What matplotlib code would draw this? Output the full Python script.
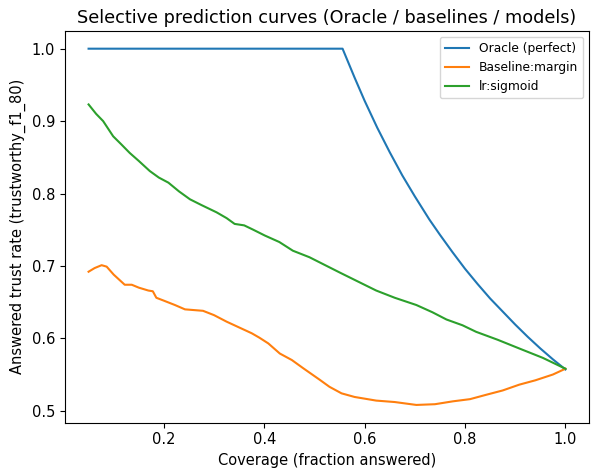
import matplotlib
matplotlib.use("Agg")
import matplotlib.pyplot as plt

# Values
oracle_cov = [0.05, 0.556, 0.58, 0.60, 0.625, 0.65, 0.675, 0.70, 0.729, 0.75, 0.775,
              0.80, 0.825, 0.85, 0.875, 0.90, 0.925, 0.95, 0.975, 1.0]
oracle_rate = [1.0, 1.0, 0.960, 0.928, 0.891, 0.857, 0.825, 0.796, 0.764, 0.743, 0.719,
               0.696, 0.675, 0.655, 0.637, 0.619, 0.602, 0.586, 0.571, 0.557]

margin_cov = [0.05, 0.062, 0.076, 0.086, 0.10, 0.122, 0.136, 0.15, 0.169, 0.178, 0.185,
              0.20, 0.222, 0.242, 0.26, 0.278, 0.30, 0.325, 0.35, 0.375, 0.39,
              0.408, 0.431, 0.455, 0.477, 0.51, 0.53, 0.554, 0.58, 0.623, 0.66,
              0.703, 0.74, 0.776, 0.81, 0.842, 0.875, 0.908, 0.94, 0.975, 1.0]
margin_rate = [0.692, 0.697, 0.701, 0.699, 0.688, 0.674, 0.674, 0.670, 0.666, 0.665, 0.656,
               0.652, 0.646, 0.640, 0.639, 0.638, 0.632, 0.623, 0.615, 0.607, 0.601,
               0.593, 0.579, 0.570, 0.559, 0.543, 0.533, 0.524, 0.519, 0.514, 0.512,
               0.508, 0.509, 0.513, 0.516, 0.522, 0.528, 0.536, 0.542, 0.550, 0.558]

sigmoid_cov = [0.05, 0.065, 0.079, 0.099, 0.115, 0.132, 0.15, 0.172, 0.19, 0.209, 0.23,
               0.252, 0.275, 0.305, 0.325, 0.341, 0.36, 0.378, 0.401, 0.43, 0.457,
               0.49, 0.51, 0.53, 0.55, 0.585, 0.623, 0.66, 0.703, 0.735, 0.763,
               0.795, 0.822, 0.865, 0.908, 0.955, 1.0]
sigmoid_rate = [0.923, 0.910, 0.900, 0.879, 0.868, 0.856, 0.845, 0.831, 0.822, 0.815, 0.803,
                0.792, 0.784, 0.774, 0.766, 0.758, 0.756, 0.750, 0.742, 0.733, 0.721,
                0.712, 0.705, 0.698, 0.691, 0.679, 0.666, 0.656, 0.646, 0.636, 0.626,
                0.618, 0.609, 0.598, 0.586, 0.573, 0.558]

plt.rcParams.update({
    'xtick.labelsize': 10.5,
    'ytick.labelsize': 10.5,
    'axes.labelsize': 10.5,
    'axes.titlesize': 12.7,
})

fig, ax = plt.subplots(figsize=(6.05, 4.75), dpi=100)
fig.subplots_adjust(left=0.107, right=0.974, top=0.935, bottom=0.11)

ax.plot(oracle_cov, oracle_rate, color="#1f77b4", lw=1.5, label="Oracle (perfect)")
ax.plot(margin_cov, margin_rate, color="#ff7f0e", lw=1.5, label="Baseline:margin")
ax.plot(sigmoid_cov, sigmoid_rate, color="#2ca02c", lw=1.5, label="lr:sigmoid")

ax.set_xlabel("Coverage (fraction answered)")
ax.set_ylabel("Answered trust rate (trustworthy_f1_80)")
ax.set_title("Selective prediction curves (Oracle / baselines / models)")
ax.legend(loc="upper right", fontsize=8.8)

plt.savefig("out.png", dpi=100)
